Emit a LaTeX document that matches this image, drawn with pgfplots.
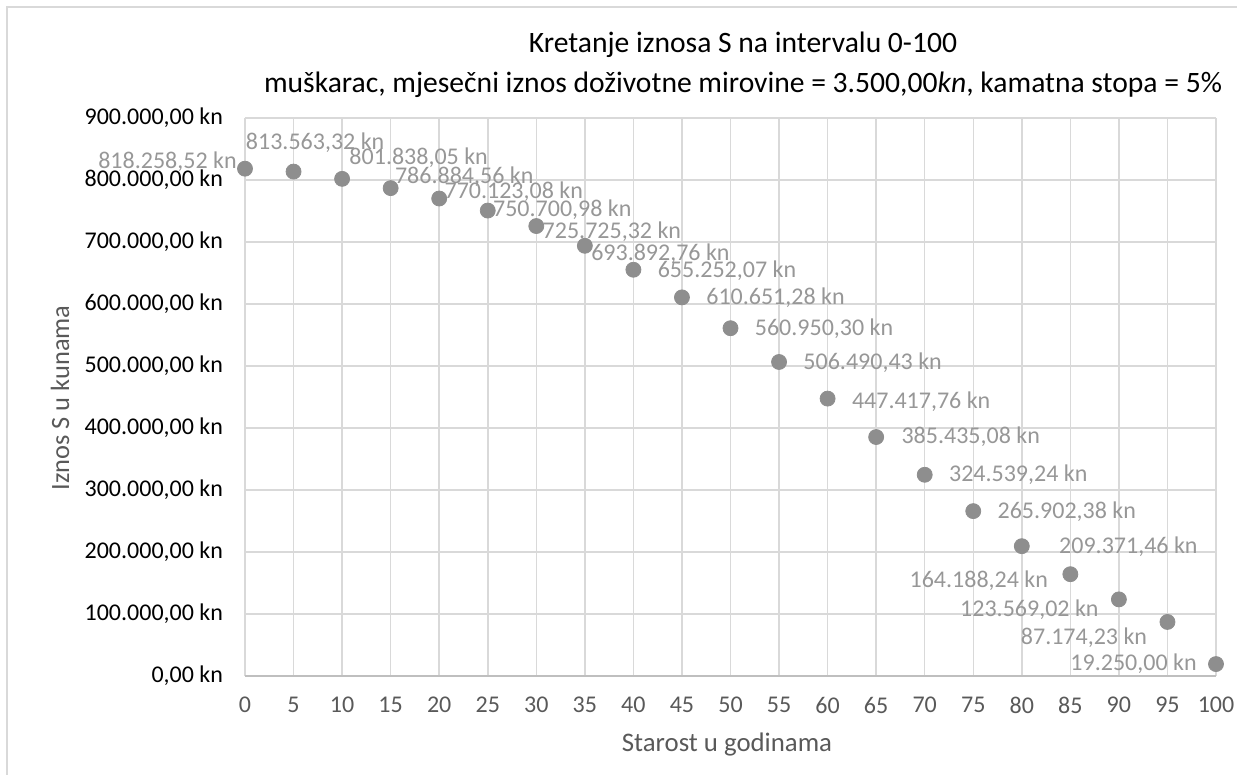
\documentclass[border=0pt]{standalone}
\usepackage{fontspec}
\setmainfont{Carlito}
\usepackage{pgfplots}
\usepackage{pgfplotstable}
\pgfplotsset{compat=1.18}
\definecolor{gridc}{HTML}{D9D9D9}
\definecolor{axc}{HTML}{BFBFBF}
\definecolor{markc}{HTML}{8E8E8E}
\definecolor{labc}{HTML}{979797}
\definecolor{txtc}{HTML}{595959}

\pgfplotstableread{
x y
0 818258.52
5 813563.32
10 801838.05
15 786884.56
20 770123.08
25 750700.98
30 725725.32
35 693892.76
40 655252.07
45 610651.28
50 560950.30
55 506490.43
60 447417.76
65 385435.08
70 324539.24
75 265902.38
80 209371.46
85 164188.24
90 123569.02
95 87174.23
100 19250.00
}\datatable

\newcommand{\lab}[5]{\node[anchor=#3, xshift=#4pt, yshift=#5pt, inner sep=0pt, text=labc, font=\fontsize{12}{14}\selectfont] at (axis cs:#1) {#2};}

\begin{document}
\begin{tikzpicture}
\useasboundingbox (-122.5pt,-49.5pt) rectangle (496pt,338pt);
\draw[gridc, line width=0.75pt] (-119pt,-49.5pt) -- (-119pt,334.5pt) -- (496pt,334.5pt);
\begin{axis}[
  at={(0,0)}, anchor=south west,
  scale only axis, width=485.5pt, height=279pt,
  xmin=0, xmax=100, ymin=0, ymax=900000,
  xtick={0,5,...,100},
  ytick={0,100000,200000,300000,400000,500000,600000,700000,800000,900000},
  scaled y ticks=false,
  yticklabels={{0,00 kn},{100.000,00 kn},{200.000,00 kn},{300.000,00 kn},{400.000,00 kn},{500.000,00 kn},{600.000,00 kn},{700.000,00 kn},{800.000,00 kn},{900.000,00 kn}},
  grid=major, major grid style={gridc, line width=0.75pt},
  axis line style={draw=none},
  major tick length=0pt,
  tick label style={font=\fontsize{12}{14}\selectfont},
  yticklabel style={black, xshift=-7.5pt},
  xticklabel style={txtc, yshift=-7pt},
  /pgf/number format/assume math mode=true,
  clip=false,
]
\draw[axc, line width=0.9pt] (axis cs:0,0) -- (axis cs:100,0);
\addplot[only marks, mark=*, mark size=3.75pt, color=markc,
  mark options={draw=markc, fill=markc}] table[x=x, y=y]{\datatable};
\lab{0,818258.52}{818.258,52 kn}{east}{-4}{3.5}
\lab{5,813563.32}{813.563,32 kn}{west}{-24}{14.5}
\lab{10,801838.05}{801.838,05 kn}{west}{3.5}{10.5}
\lab{15,786884.56}{786.884,56 kn}{west}{2}{5.5}
\lab{20,770123.08}{770.123,08 kn}{west}{2.5}{3.5}
\lab{25,750700.98}{750.700,98 kn}{west}{2.5}{0.5}
\lab{30,725725.32}{725.725,32 kn}{west}{3}{-3}
\lab{35,693892.76}{693.892,76 kn}{west}{3}{-4}
\lab{40,655252.07}{655.252,07 kn}{west}{12}{-0.5}
\lab{45,610651.28}{610.651,28 kn}{west}{12}{0}
\lab{50,560950.30}{560.950,30 kn}{west}{12}{0}
\lab{55,506490.43}{506.490,43 kn}{west}{12}{-0.5}
\lab{60,447417.76}{447.417,76 kn}{west}{12}{-1.5}
\lab{65,385435.08}{385.435,08 kn}{west}{12.5}{0}
\lab{70,324539.24}{324.539,24 kn}{west}{12}{0}
\lab{75,265902.38}{265.902,38 kn}{west}{12}{-0.5}
\lab{80,209371.46}{209.371,46 kn}{west}{18.5}{-0.5}
\lab{85,164188.24}{164.188,24 kn}{east}{-11}{-3.5}
\lab{90,123569.02}{123.569,02 kn}{east}{-10}{-5}
\lab{95,87174.23}{87.174,23 kn}{east}{-10}{-8}
\lab{100,19250.00}{19.250,00 kn}{east}{-9.5}{0}
\end{axis}
\node[align=center, font=\fontsize{14.8}{20}\selectfont] at (249pt,305.5pt) {Kretanje iznosa S na intervalu 0-100\\muškarac, mjesečni iznos doživotne mirovine = 3.500,00\textit{kn}, kamatna stopa = 5\%};
\node[rotate=90, text=txtc, font=\fontsize{13.2}{15}\selectfont] at (-92.5pt,139pt) {Iznos S u kunama};
\node[text=txtc, font=\fontsize{13.4}{15}\selectfont] at (241pt,-34.5pt) {Starost u godinama};
\end{tikzpicture}
\end{document}
